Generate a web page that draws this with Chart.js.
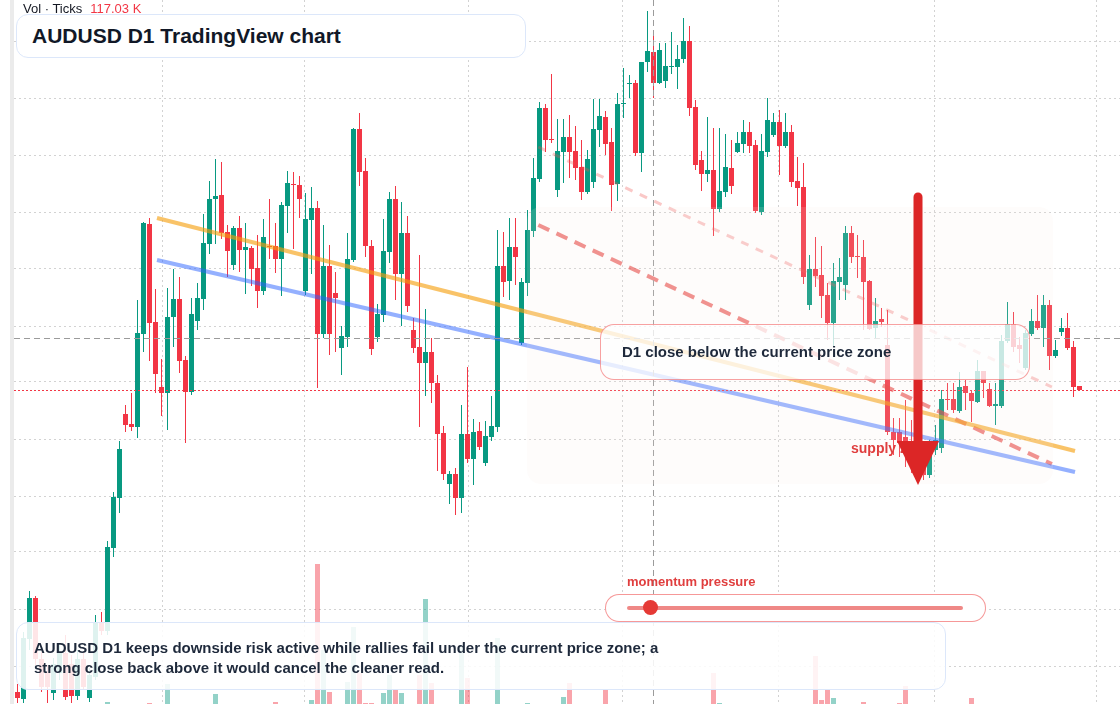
<!DOCTYPE html>
<html>
<head>
<meta charset="utf-8">
<title>AUDUSD D1 TradingView chart</title>
<script src="https://cdn.jsdelivr.net/npm/chart.js@4.4.1/dist/chart.umd.min.js"></script>
<style>
  html, body { margin: 0; padding: 0; background: #fff; }
  body { width: 1120px; height: 704px; overflow: hidden; font-family: "Liberation Sans", Arial, sans-serif; }
  #wrap { position: relative; width: 1120px; height: 704px; }
  #chart { position: absolute; left: 0; top: 0; }
  .abs { position: absolute; box-sizing: border-box; }
  .pane-edge { left: 10px; top: 0; width: 4px; height: 704px; background: #ebebeb; }
  .zone { left: 527px; top: 207px; width: 526px; height: 277px; border-radius: 14px; background: rgba(250, 236, 226, 0.14); }
  .supply { left: 851px; top: 440px; font-size: 14px; line-height: 16px; font-weight: 700; color: #e03e3e; white-space: nowrap; }
  .arrow { left: 0; top: 0; width: 1120px; height: 704px; }
  .callout { left: 600px; top: 324px; width: 430px; height: 56px; border: 1.5px solid rgba(239, 68, 68, 0.5); border-radius: 14px;
             background: rgba(255, 255, 255, 0.75); padding-left: 21px; font-size: 15px; line-height: 53px; font-weight: 700; color: #1e293b; white-space: nowrap; }
  .mom-label { left: 627px; top: 574px; font-size: 13px; line-height: 16px; font-weight: 700; color: #e03e3e; white-space: nowrap; }
  .pill { left: 605px; top: 594px; width: 381px; height: 28px; border: 1.5px solid rgba(239, 68, 68, 0.55); border-radius: 14px; background: #fff; }
  .track { left: 627px; top: 606px; width: 336px; height: 4px; border-radius: 2px; background: rgba(229, 57, 53, 0.6); }
  .knob { left: 642.5px; top: 600px; width: 15px; height: 15px; border-radius: 50%; background: #e53935; }
  .note { left: 16px; top: 622px; width: 930px; height: 68px; border: 1.5px solid #dce7fa; border-radius: 12px;
          background: rgba(255, 255, 255, 0.87); padding: 15px 0 0 17px; font-size: 15px; line-height: 20px; font-weight: 700; color: #1e293b; white-space: nowrap; }
  .title { left: 16px; top: 14px; width: 510px; height: 44px; border: 1.5px solid #dce7fa; border-radius: 12px;
           background: #fff; padding-left: 15px; font-size: 21px; line-height: 41px; font-weight: 700; color: #111827; white-space: nowrap; }
  .vol { left: 23px; top: 1px; font-size: 13px; line-height: 16px; color: #131722; white-space: nowrap; }
  .vol span { color: #f23645; margin-left: 8px; }
</style>
</head>
<body>
<div id="wrap">
  <canvas id="chart" width="1120" height="704"></canvas>
  <div class="abs pane-edge"></div>
  <div class="abs zone"></div>
  <div class="abs supply">supply zone</div>
  <svg class="abs arrow" viewBox="0 0 1120 704">
    <line x1="918" y1="197" x2="918" y2="446" stroke="#dc2626" stroke-width="9" stroke-linecap="round"/>
    <polygon points="897,441 939,441 918,485" fill="#dc2626"/>
  </svg>
  <div class="abs callout">D1 close below the current price zone</div>
  <div class="abs mom-label">momentum pressure</div>
  <div class="abs pill"></div>
  <div class="abs track"></div>
  <div class="abs knob"></div>
  <div class="abs note">AUDUSD D1 keeps downside risk active while rallies fail under the current price zone; a<br>strong close back above it would cancel the cleaner read.</div>
  <div class="abs title">AUDUSD D1 TradingView chart</div>
  <div class="abs vol">Vol · Ticks<span>117.03 K</span></div>
</div>

<script>
/* ── AUDUSD D1 candles ── */

// ── Data (one entry per daily bar, oldest first) ──
const opens = [
  0.6308, 0.6301, 0.6361, 0.6402, 0.6341, 0.6327, 0.6307, 0.6327, 0.6347, 0.6336,
  0.6304, 0.6341, 0.6302, 0.6323, 0.6377, 0.6369, 0.6452, 0.6502, 0.6586, 0.6576,
  0.6573, 0.6666, 0.6776, 0.6678, 0.6613, 0.6607, 0.6683, 0.6701, 0.6640, 0.6608,
  0.6679, 0.6701, 0.6756, 0.6801, 0.6805, 0.6768, 0.6735, 0.6772, 0.6750, 0.6752,
  0.6732, 0.6709, 0.6754, 0.6754, 0.6741, 0.6794, 0.6816, 0.6815, 0.6709, 0.6780,
  0.6792, 0.6666, 0.6734, 0.6707, 0.6652, 0.6663, 0.6740, 0.6871, 0.6829, 0.6754,
  0.6663, 0.6685, 0.6748, 0.6801, 0.6726, 0.6767, 0.6670, 0.6653, 0.6637, 0.6648,
  0.6617, 0.6567, 0.6516, 0.6526, 0.6502, 0.6566, 0.6541, 0.6569, 0.6537, 0.6563,
  0.6573, 0.6734, 0.6719, 0.6753, 0.6657, 0.6717, 0.6769, 0.6821, 0.6892, 0.6861,
  0.6810, 0.6848, 0.6863, 0.6849, 0.6833, 0.6808, 0.6818, 0.6870, 0.6883, 0.6858,
  0.6816, 0.6896, 0.6916, 0.6917, 0.6847, 0.6938, 0.6948, 0.6917, 0.6919, 0.6933,
  0.6933, 0.6941, 0.6959, 0.6893, 0.6840, 0.6826, 0.6830, 0.6791, 0.6808, 0.6832,
  0.6848, 0.6856, 0.6868, 0.6855, 0.6788, 0.6848, 0.6865, 0.6878, 0.6854, 0.6868,
  0.6819, 0.6813, 0.6695, 0.6731, 0.6725, 0.6705, 0.6677, 0.6718, 0.6715, 0.6767,
  0.6744, 0.6743, 0.6719, 0.6672, 0.6681, 0.6655, 0.6568, 0.6568, 0.6563, 0.6553,
  0.6545, 0.6542, 0.6525, 0.6550, 0.6552, 0.6601, 0.6601, 0.6589, 0.6614, 0.6607,
  0.6598, 0.6629, 0.6611, 0.6594, 0.6594, 0.6659, 0.6676, 0.6655, 0.6632, 0.6666,
  0.6679, 0.6672, 0.6695, 0.6644, 0.6668, 0.6672, 0.6653, 0.6614
];
const highs = [
  0.6316, 0.6368, 0.6409, 0.6404, 0.6348, 0.6335, 0.6342, 0.6355, 0.6365, 0.6345,
  0.6350, 0.6348, 0.6332, 0.6385, 0.6388, 0.6459, 0.6508, 0.6559, 0.6595, 0.6607,
  0.6700, 0.6778, 0.6782, 0.6711, 0.6641, 0.6712, 0.6731, 0.6723, 0.6644, 0.6702,
  0.6717, 0.6786, 0.6819, 0.6841, 0.6838, 0.6775, 0.6774, 0.6784, 0.6777, 0.6754,
  0.6765, 0.6781, 0.6801, 0.6777, 0.6798, 0.6829, 0.6828, 0.6824, 0.6807, 0.6813,
  0.6799, 0.6775, 0.6755, 0.6728, 0.6674, 0.6767, 0.6872, 0.6887, 0.6842, 0.6760,
  0.6696, 0.6781, 0.6808, 0.6814, 0.6798, 0.6784, 0.6682, 0.6745, 0.6691, 0.6662,
  0.6625, 0.6574, 0.6529, 0.6532, 0.6595, 0.6633, 0.6581, 0.6578, 0.6579, 0.6604,
  0.6770, 0.6768, 0.6782, 0.6782, 0.6722, 0.6790, 0.6842, 0.6898, 0.6896, 0.6926,
  0.6881, 0.6881, 0.6885, 0.6874, 0.6860, 0.6850, 0.6901, 0.6901, 0.6889, 0.6872,
  0.6907, 0.6932, 0.6925, 0.6920, 0.6938, 0.6989, 0.6970, 0.6957, 0.6957, 0.6968,
  0.6955, 0.6982, 0.6974, 0.6900, 0.6849, 0.6883, 0.6872, 0.6872, 0.6866, 0.6860,
  0.6868, 0.6880, 0.6878, 0.6860, 0.6866, 0.6902, 0.6887, 0.6890, 0.6887, 0.6875,
  0.6843, 0.6837, 0.6745, 0.6763, 0.6754, 0.6717, 0.6737, 0.6742, 0.6774, 0.6774,
  0.6765, 0.6760, 0.6720, 0.6702, 0.6692, 0.6690, 0.6582, 0.6582, 0.6600, 0.6580,
  0.6560, 0.6555, 0.6560, 0.6575, 0.6610, 0.6617, 0.6617, 0.6628, 0.6620, 0.6610,
  0.6640, 0.6629, 0.6617, 0.6617, 0.6665, 0.6698, 0.6688, 0.6663, 0.6670, 0.6691,
  0.6705, 0.6705, 0.6700, 0.6660, 0.6682, 0.6687, 0.6659, 0.6614
];
const lows = [
  0.6297, 0.6297, 0.6350, 0.6335, 0.6308, 0.6297, 0.6300, 0.6320, 0.6300, 0.6297,
  0.6300, 0.6310, 0.6298, 0.6320, 0.6365, 0.6365, 0.6443, 0.6487, 0.6568, 0.6569,
  0.6562, 0.6648, 0.6639, 0.6607, 0.6584, 0.6570, 0.6653, 0.6627, 0.6557, 0.6605,
  0.6670, 0.6690, 0.6746, 0.6756, 0.6761, 0.6723, 0.6730, 0.6728, 0.6706, 0.6714,
  0.6692, 0.6705, 0.6741, 0.6727, 0.6704, 0.6767, 0.6751, 0.6782, 0.6705, 0.6726,
  0.6612, 0.6662, 0.6645, 0.6648, 0.6625, 0.6653, 0.6738, 0.6814, 0.6743, 0.6645,
  0.6658, 0.6678, 0.6737, 0.6700, 0.6674, 0.6688, 0.6647, 0.6573, 0.6604, 0.6597,
  0.6529, 0.6520, 0.6496, 0.6485, 0.6487, 0.6537, 0.6515, 0.6550, 0.6534, 0.6559,
  0.6568, 0.6703, 0.6700, 0.6715, 0.6655, 0.6704, 0.6763, 0.6818, 0.6848, 0.6857,
  0.6803, 0.6817, 0.6822, 0.6820, 0.6800, 0.6806, 0.6812, 0.6853, 0.6845, 0.6789,
  0.6799, 0.6882, 0.6902, 0.6844, 0.6828, 0.6928, 0.6902, 0.6916, 0.6912, 0.6926,
  0.6911, 0.6937, 0.6884, 0.6830, 0.6809, 0.6818, 0.6764, 0.6788, 0.6803, 0.6806,
  0.6847, 0.6847, 0.6847, 0.6787, 0.6785, 0.6843, 0.6863, 0.6825, 0.6852, 0.6813,
  0.6794, 0.6716, 0.6690, 0.6713, 0.6682, 0.6660, 0.6653, 0.6700, 0.6700, 0.6737,
  0.6722, 0.6670, 0.6670, 0.6662, 0.6673, 0.6565, 0.6545, 0.6543, 0.6533, 0.6527,
  0.6522, 0.6520, 0.6522, 0.6545, 0.6547, 0.6590, 0.6587, 0.6587, 0.6590, 0.6578,
  0.6597, 0.6602, 0.6593, 0.6575, 0.6592, 0.6657, 0.6648, 0.6637, 0.6630, 0.6664,
  0.6670, 0.6653, 0.6630, 0.6642, 0.6664, 0.6650, 0.6603, 0.6609
];
const closes = [
  0.6302, 0.6362, 0.6402, 0.6341, 0.6313, 0.6313, 0.6336, 0.6347, 0.6303, 0.6304,
  0.6341, 0.6313, 0.6325, 0.6377, 0.6369, 0.6453, 0.6503, 0.6551, 0.6575, 0.6573,
  0.6667, 0.6777, 0.6677, 0.6626, 0.6607, 0.6683, 0.6701, 0.6639, 0.6608, 0.6686,
  0.6702, 0.6757, 0.6801, 0.6804, 0.6767, 0.6749, 0.6772, 0.6750, 0.6753, 0.6731,
  0.6709, 0.6763, 0.6753, 0.6741, 0.6795, 0.6817, 0.6815, 0.6801, 0.6781, 0.6792,
  0.6666, 0.6734, 0.6666, 0.6702, 0.6664, 0.6741, 0.6871, 0.6828, 0.6754, 0.6651,
  0.6686, 0.6749, 0.6801, 0.6726, 0.6767, 0.6694, 0.6652, 0.6637, 0.6648, 0.6617,
  0.6566, 0.6526, 0.6526, 0.6502, 0.6566, 0.6541, 0.6568, 0.6553, 0.6564, 0.6574,
  0.6734, 0.6718, 0.6753, 0.6743, 0.6718, 0.6770, 0.6822, 0.6892, 0.6860, 0.6860,
  0.6849, 0.6863, 0.6848, 0.6832, 0.6808, 0.6841, 0.6871, 0.6884, 0.6856, 0.6815,
  0.6896, 0.6897, 0.6917, 0.6847, 0.6938, 0.6949, 0.6917, 0.6950, 0.6934, 0.6934,
  0.6941, 0.6959, 0.6892, 0.6835, 0.6826, 0.6830, 0.6791, 0.6809, 0.6833, 0.6814,
  0.6857, 0.6868, 0.6854, 0.6789, 0.6849, 0.6880, 0.6878, 0.6854, 0.6868, 0.6818,
  0.6812, 0.6723, 0.6731, 0.6724, 0.6704, 0.6677, 0.6719, 0.6723, 0.6767, 0.6743,
  0.6743, 0.6718, 0.6671, 0.6679, 0.6678, 0.6568, 0.6560, 0.6557, 0.6553, 0.6540,
  0.6530, 0.6525, 0.6553, 0.6560, 0.6601, 0.6600, 0.6590, 0.6613, 0.6607, 0.6599,
  0.6629, 0.6617, 0.6594, 0.6596, 0.6659, 0.6676, 0.6653, 0.6651, 0.6667, 0.6679,
  0.6672, 0.6695, 0.6644, 0.6650, 0.6672, 0.6652, 0.6613, 0.6610
];
// volume in K ticks; null where the bar stays below the visible pane
const n = null;
const volumes = [
  n, n, n, n, n, n, n, n, n, n,
  n, n, n, n, n, 124, n, n, n, n,
  n, n, 122, n, n, 160, n, n, n, n,
  n, n, n, 140, n, n, n, n, n, n,
  n, n, n, 124, n, n, n, n, n, 128,
  400, 228, 144, n, n, 164, 274, 182, 122, 122,
  n, 142, 178, 148, 142, n, n, 178, 330, 162,
  n, n, n, n, 238, 172, n, n, n, n,
  252, n, n, n, n, 122, n, n, n, n,
  n, 134, 162, n, n, n, n, n, 148, n,
  n, n, n, n, n, n, n, n, n, n,
  n, n, n, n, n, n, 182, 122, n, n,
  n, n, n, n, n, n, n, n, n, n,
  n, n, n, 216, 128, 148, 132, n, n, n,
  n, 124, n, n, n, n, n, 122, 156, n,
  n, n, n, n, n, n, n, n, n, 132,
  n, n, n, n, n, n, n, n, n, n,
  n, n, n, n, n, n, n, 117.03
];

// grid positions (bar index / price)
const xGrid = [24.1, 47.9, 75.1, 100.9, 126.9, 152.9, 179.9];
const yGrid = [0.6958, 0.6901, 0.6844, 0.6788, 0.6731, 0.6674, 0.6618, 0.6561, 0.6504, 0.6448, 0.6391, 0.6334];

// drawn trend lines: [bar index, price] at each end
const upperTrend = [[23.25, 0.6782], [176.25, 0.6549]];
const lowerTrend = [[23.25, 0.6740], [176.25, 0.6528]];
const breakLine  = [[86.8, 0.6775], [172.4, 0.6536]];
const fadeLine   = [[86.8, 0.6853], [172.4, 0.6613]];

// crosshair
const crossIndex = 106;
const crossPrice = 0.6662;

// ── Colours ───────────────────────────────────
const UP = '#089981';
const DOWN = '#f23645';
const VOL_UP = 'rgba(8,153,129,0.44)';
const VOL_DOWN = 'rgba(242,54,69,0.45)';
const GRID = '#d2d2d2';

const isUp = i => closes[i] >= opens[i];

// ── Price lines plugin ────────────────────────
const priceLines = {
  id: 'priceLines',
  afterDatasetsDraw(chart) {
    const { ctx, chartArea: a, scales: { x, y } } = chart;
    ctx.save();
    ctx.lineWidth = 1;

    // last price
    const yl = Math.round(y.getPixelForValue(closes[closes.length - 1])) + 0.5;
    ctx.strokeStyle = DOWN;
    ctx.setLineDash([2, 2]);
    ctx.beginPath(); ctx.moveTo(a.left, yl); ctx.lineTo(a.right, yl); ctx.stroke();

    // crosshair
    const xc = Math.round(x.getPixelForValue(crossIndex)) + 0.5;
    const yc = Math.round(y.getPixelForValue(crossPrice)) + 0.5;
    ctx.strokeStyle = '#9b9b9b';
    ctx.setLineDash([6, 4]);
    ctx.beginPath(); ctx.moveTo(a.left, yc); ctx.lineTo(a.right, yc); ctx.stroke();
    ctx.beginPath(); ctx.moveTo(xc, a.top); ctx.lineTo(xc, a.bottom); ctx.stroke();
    ctx.restore();
  }
};

function trend(points, color, width, dash) {
  return {
    type: 'line',
    data: points.map(p => ({ x: p[0], y: p[1] })),
    borderColor: color,
    borderWidth: width,
    borderDash: dash,
    borderCapStyle: 'butt',
    pointRadius: 0,
    yAxisID: 'y',
    order: 0
  };
}

// ── Chart ─────────────────────────────────────
new Chart(document.getElementById('chart'), {
  type: 'bar',
  data: {
    datasets: [
      trend(upperTrend, 'rgba(245,158,11,0.62)', 4, []),
      trend(lowerTrend, 'rgba(41,98,255,0.5)', 4, []),
      trend(fadeLine, 'rgba(239,83,80,0.32)', 3, [8, 8]),
      trend(breakLine, 'rgba(229,57,53,0.62)', 4, [12, 8]),
      {
        label: 'wick',
        data: highs.map((h, i) => ({ x: i, y: [lows[i], h] })),
        backgroundColor: c => isUp(c.dataIndex) ? UP : DOWN,
        barThickness: 1,
        grouped: false,
        inflateAmount: 0,
        yAxisID: 'y',
        order: 1
      },
      {
        label: 'body',
        data: opens.map((o, i) => ({ x: i, y: [o, closes[i]] })),
        backgroundColor: c => isUp(c.dataIndex) ? UP : DOWN,
        barThickness: 5,
        minBarLength: 1,
        grouped: false,
        inflateAmount: 0,
        yAxisID: 'y',
        order: 1
      },
      {
        label: 'volume',
        data: volumes.map((v, i) => ({ x: i, y: v })),
        backgroundColor: c => isUp(c.dataIndex) ? VOL_UP : VOL_DOWN,
        barThickness: 5,
        grouped: false,
        inflateAmount: 0,
        yAxisID: 'yv',
        order: 2
      }
    ]
  },
  options: {
    responsive: false,
    animation: false,
    events: [],
    layout: { padding: { left: 14, right: 0, top: 0, bottom: 0 } },
    plugins: { legend: { display: false }, tooltip: { enabled: false } },
    scales: {
      x: {
        type: 'linear',
        min: -0.5833,
        max: 183.75,
        offset: false,
        afterBuildTicks: s => { s.ticks = xGrid.map(v => ({ value: v })); },
        ticks: { display: false },
        grid: { color: GRID, drawTicks: false, offset: false },
        border: { display: false, dash: [2, 3] }
      },
      y: {
        type: 'linear',
        position: 'right',
        min: 0.6296,
        max: 0.7000,
        afterBuildTicks: s => { s.ticks = yGrid.map(v => ({ value: v })); },
        ticks: { display: false },
        grid: { color: GRID, drawTicks: false },
        border: { display: false, dash: [2, 3] }
      },
      yv: {
        type: 'linear',
        display: false,
        min: 120,
        max: 1528
      }
    }
  },
  plugins: [priceLines]
});
</script>
</body>
</html>
